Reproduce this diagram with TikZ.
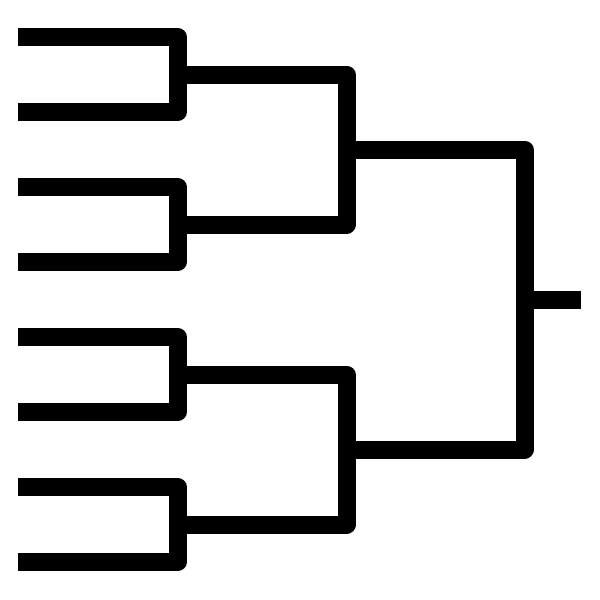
\documentclass[tikz,border=0pt]{standalone}
\begin{document}
\begin{tikzpicture}[x=1pt,y=-1pt,
  wire/.style={line width=18pt,line join=round,line cap=butt,black}]
\useasboundingbox (0,0) rectangle (600,600);
% first round
\foreach \t/\b in {37/112,187/262,337/412,487/562}{
  \draw[wire] (18,\t) -- (177.5,\t) -- (177.5,\b) -- (18,\b);
}
% second round
\foreach \t/\b in {74.5/224.5,374.5/524.5}{
  \draw[wire] (177.5,\t) -- (346.5,\t) -- (346.5,\b) -- (177.5,\b);
}
% final
\draw[wire] (346.5,149.5) -- (524.5,149.5) -- (524.5,449.5) -- (346.5,449.5);
\coordinate (fin) at (524.5,299.5);
\coordinate (out) at (581,299.5);
\draw[wire] (fin) -- (out);
\end{tikzpicture}
\end{document}
